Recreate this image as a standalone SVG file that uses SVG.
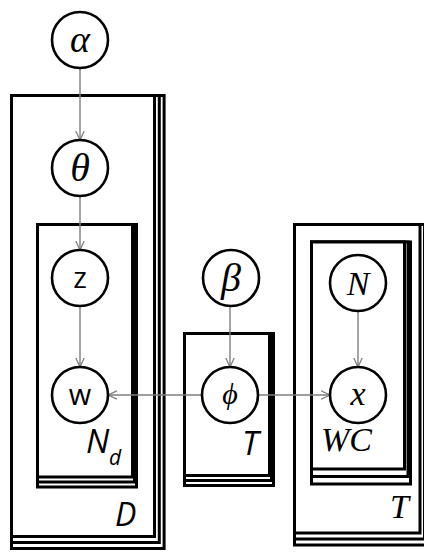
<svg xmlns="http://www.w3.org/2000/svg" width="424" height="552" viewBox="0 0 424 552">
  <style>
    .plate { fill: #ffffff; stroke: #000000; stroke-width: 3; }
    .node { fill: #ffffff; stroke: #000000; stroke-width: 2.6; }
    .edge { fill: none; stroke: #7f7f7f; stroke-width: 1.4; }
    .math { font-family: "Liberation Serif", "DejaVu Serif", serif; font-style: italic; fill: #000; text-anchor: middle; }
    .sans { font-family: "Open Sans", "Liberation Sans", sans-serif; fill: #000; }
    .serif-it { font-family: "Liberation Serif", "DejaVu Serif", serif; font-style: italic; fill: #000; }
  </style>
  <defs>
    <marker id="arrow" viewBox="0 0 10 10" refX="9.5" refY="5" markerWidth="10" markerHeight="10" markerUnits="userSpaceOnUse" orient="auto">
      <path d="M0.5,0.8 L9.5,5 L0.5,9.2" fill="none" stroke="#7f7f7f" stroke-width="1.3"/>
    </marker>
  </defs>

  <rect width="424" height="552" fill="#ffffff"/>

  <!-- plate D (documents), stacked copies drawn back to front -->
  <g id="plate-D">
    <rect class="plate" x="11.5" y="95.5" width="152.6" height="453"/>
    <rect class="plate" x="11.5" y="95.5" width="147.8" height="447"/>
    <rect class="plate" x="11.5" y="95.5" width="143" height="441"/>
    <text class="sans" x="115" y="526" font-size="32" font-style="italic">D</text>
  </g>

  <!-- plate N_d (words per document); copies nearly overlap on the right -->
  <g id="plate-Nd">
    <rect class="plate" x="37.5" y="224.5" width="99" height="262.5"/>
    <rect class="plate" x="37.5" y="224.5" width="97" height="257.5"/>
    <rect class="plate" x="37.5" y="224.5" width="95" height="252.5"/>
    <text class="sans" x="86" y="453" font-size="33" font-style="italic">N</text>
    <text class="sans" x="109" y="465" font-size="21" font-style="italic">d</text>
  </g>

  <!-- plate T (topics) around phi -->
  <g id="plate-T-mid">
    <rect class="plate" x="184.5" y="333.5" width="89" height="152"/>
    <rect class="plate" x="184.5" y="333.5" width="87" height="147"/>
    <rect class="plate" x="184.5" y="333.5" width="85" height="142"/>
    <text class="sans" x="242" y="455" font-size="33" font-style="italic">T</text>
  </g>

  <!-- outer plate T on the right -->
  <g id="plate-T-right">
    <rect class="plate" x="294.5" y="224.5" width="134.5" height="320.5"/>
    <rect class="plate" x="294.5" y="224.5" width="130" height="314.5"/>
    <rect class="plate" x="294.5" y="224.5" width="125.5" height="308.5"/>
    <text class="serif-it" x="390" y="518" font-size="34">T</text>
  </g>

  <!-- plate WC -->
  <g id="plate-WC">
    <rect class="plate" x="311.5" y="242" width="99" height="242"/>
    <rect class="plate" x="311.5" y="242" width="96.5" height="234.5"/>
    <rect class="plate" x="311.5" y="242" width="93" height="227"/>
    <text class="serif-it" x="321" y="451" font-size="34">WC</text>
  </g>

  <!-- connectors -->
  <g id="edges">
    <line class="edge" x1="80" y1="68" x2="80" y2="140" marker-end="url(#arrow)"/>
    <line class="edge" x1="80" y1="196" x2="80" y2="250" marker-end="url(#arrow)"/>
    <line class="edge" x1="80" y1="306" x2="80" y2="367" marker-end="url(#arrow)"/>
    <line class="edge" x1="230" y1="306" x2="230" y2="367" marker-end="url(#arrow)"/>
    <line class="edge" x1="202" y1="395" x2="108" y2="395" marker-end="url(#arrow)"/>
    <line class="edge" x1="258" y1="395" x2="330" y2="395" marker-end="url(#arrow)"/>
    <line class="edge" x1="358" y1="311" x2="358" y2="367" marker-end="url(#arrow)"/>
  </g>

  <!-- nodes -->
  <g id="node-alpha">
    <circle class="node" cx="80" cy="40" r="28"/>
    <text class="math" x="80" y="52" font-size="38">α</text>
  </g>
  <g id="node-theta">
    <circle class="node" cx="80" cy="168" r="28"/>
    <text class="math" x="80" y="181" font-size="40">θ</text>
  </g>
  <g id="node-z">
    <circle class="node" cx="80" cy="278" r="28"/>
    <text class="sans" x="80" y="288" font-size="29" text-anchor="middle">z</text>
  </g>
  <g id="node-w">
    <circle class="node" cx="80" cy="395" r="28"/>
    <text class="sans" x="80" y="405" font-size="29" text-anchor="middle">w</text>
  </g>
  <g id="node-beta">
    <circle class="node" cx="231" cy="278" r="28"/>
    <text class="math" x="231" y="291" font-size="40">β</text>
  </g>
  <g id="node-phi">
    <circle class="node" cx="230" cy="395" r="28"/>
    <text class="math" x="230" y="404" font-size="30">ϕ</text>
  </g>
  <g id="node-N">
    <circle class="node" cx="358" cy="283" r="28"/>
    <text class="math" x="358" y="295" font-size="34">N</text>
  </g>
  <g id="node-x">
    <circle class="node" cx="358" cy="395" r="28"/>
    <text class="math" x="358" y="405" font-size="34">x</text>
  </g>
</svg>
